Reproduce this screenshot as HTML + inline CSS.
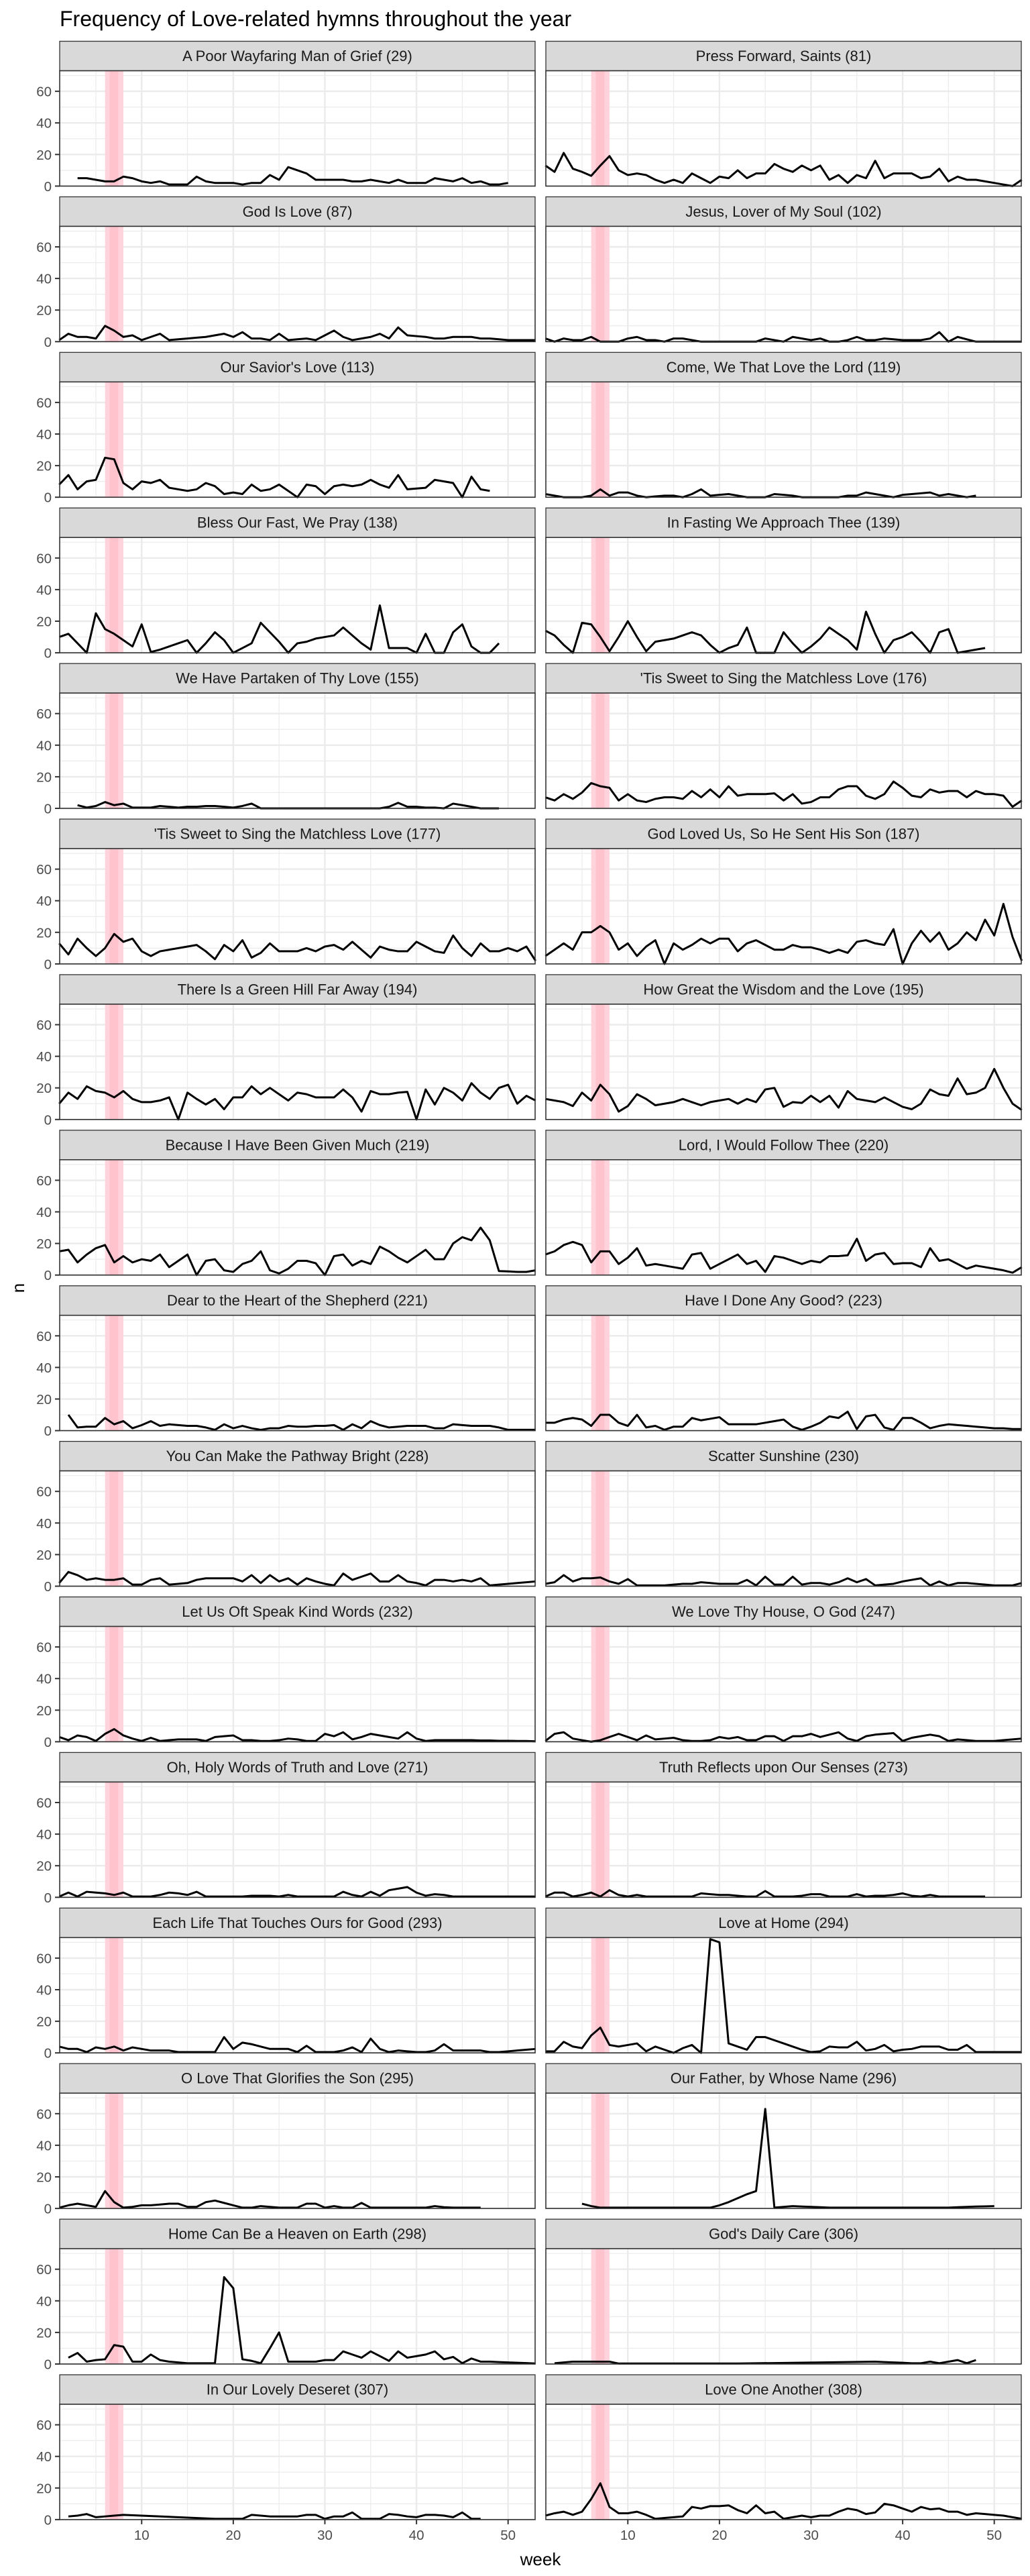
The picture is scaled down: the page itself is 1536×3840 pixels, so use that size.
<!DOCTYPE html>
<html><head><meta charset="utf-8"><title>Frequency of Love-related hymns</title>
<style>
html,body{margin:0;padding:0;background:#fff;}
svg{display:block;font-family:"Liberation Sans",Arial,sans-serif;}
</style></head>
<body>
<svg id="chart" xmlns="http://www.w3.org/2000/svg" width="1536" height="3840" viewBox="0 0 1536 3840">
<rect x="0" y="0" width="1536" height="3840" fill="#ffffff"/>
<text x="89" y="39" font-size="32" fill="#000">Frequency of Love-related hymns throughout the year</text>
<text x="0" y="0" font-size="26" fill="#000" text-anchor="middle" transform="translate(36,1920) rotate(-90)">n</text>
<text x="806" y="3824" font-size="26" fill="#000" text-anchor="middle">week</text>
<g id="panels"></g>
</svg>
<script>
const titles = ["A Poor Wayfaring Man of Grief (29)","Press Forward, Saints (81)","God Is Love (87)","Jesus, Lover of My Soul (102)","Our Savior's Love (113)","Come, We That Love the Lord (119)","Bless Our Fast, We Pray (138)","In Fasting We Approach Thee (139)","We Have Partaken of Thy Love (155)","'Tis Sweet to Sing the Matchless Love (176)","'Tis Sweet to Sing the Matchless Love (177)","God Loved Us, So He Sent His Son (187)","There Is a Green Hill Far Away (194)","How Great the Wisdom and the Love (195)","Because I Have Been Given Much (219)","Lord, I Would Follow Thee (220)","Dear to the Heart of the Shepherd (221)","Have I Done Any Good? (223)","You Can Make the Pathway Bright (228)","Scatter Sunshine (230)","Let Us Oft Speak Kind Words (232)","We Love Thy House, O God (247)","Oh, Holy Words of Truth and Love (271)","Truth Reflects upon Our Senses (273)","Each Life That Touches Ours for Good (293)","Love at Home (294)","O Love That Glorifies the Son (295)","Our Father, by Whose Name (296)","Home Can Be a Heaven on Earth (298)","God's Daily Care (306)","In Our Lovely Deseret (307)","Love One Another (308)"];
const xTicks = [10,20,30,40,50];
const yTicks = [0,20,40,60];
const highlightStart = 6, highlightEnd = 8, highlightInnerStart = 6.5, highlightInnerEnd = 7.45;
const s29 = [null,null,5,5,4,3,3,6,5,3,2,3,1,1,1,6,3,2,2,2,1,2,2,7,4,12,10,8,4,4,4,4,3,3,4,3,2,4,2,2,2,5,4,3,5,2,3,1,1,2,null,null,null];
const s81 = [13,9,21,11,9,6.5,13,19,10,7,8,7,4,2,4,2,8,5,2,6,5,10,5,8,8,14,11,9,13,10,13,4,7,2,7,5,16,5,8,8,8,5,6,11,3,6,4,4,3,2,1,0,4];
const s87 = [1,5,3,3,2,10,7,3,4,1,3,5,1,1.5,2,2.5,3,4,5,3,6,2,2,1,5,1,1.5,2,1,4,7,3,1,2,3,5,2,9,4,3.5,3,2,2,3,3,3,2,2,1.5,1,1,1,1];
const s102 = [2,0,2,1,1,3,0,0,0,2,3,1,1,0,2,2,1,0,0,0,0,0,0,0,2,1,0,3,2,1,2,0,0,1,3,1,1,2,1.5,1,1,1,2,6,0,3,1.5,0,0,0,0,0,0];
const s113 = [8,14,5,10,11,25,24,9,5,10,9,11,6,5,4,5,9,7,2,3,2,8,4,5,8,4,0,8,7,2,7,8,7,8,11,8,6,14,5,5.5,6,11,10,9,0,13,5,4,null,null,null,null,null];
const s119 = [2,1,0,0,0,1,5,1,3,3,1,0,0.5,1,1,0,2,5,1,1.5,2,1,0,0,0,2,1.5,1,0,0,0,0,0,1,1,3,2,1,0,1.5,2,2.5,3,1,2,1,0,1,null,null,null,null,null];
const s138 = [10,12,6,0,25,15,12,8,4,18,0.5,2,4,6,8,0,6,13,8,0,3,6,19,13,7,0,6,7,9,10,11,16,11,6,2,30,3,3,3,0,12,0,0,13,18,4,0,0,6,null,null,null,null];
const s139 = [14,11,5,0,19,18,10,1,10,20,10,1,7,8,9,11,13,11,5,0,3,5,16,0,0,0,13,6,0,4,9,16,12,8,2,26,12,0,8,10,13,7,0,13,15,0,1,2,3,null,null,null,null];
const s155 = [null,null,2,0.5,1.5,4,2,3,0.5,0.5,0.5,1.5,1,0.5,1,1,1.5,1.5,1,0.5,1.5,3,0,0,0,0,0,0,0,0,0,0,0,0,0,0,1,3.5,1,1,0.5,0.5,0,3,2,1,0,0,0,null,null,null,null];
const s176 = [7,5,9,6,10,16,14,13,5,9,5,4,6,7,7,6,11,7,12,7,14,8,9,9,9,9.5,5,9,3,4,7,7,12,14,14,8,6,9,17,13,8,7,12,10,11,11,7,11,9,9,8,1,5];
const s177 = [13,6,16,10,5,10,19,14,16,8,5,8,9,10,11,12,8,3,12,8,15,4,7,13,8,8,8,10,8,11,12,9,14,9,4,11,9,8,8,14,11,8,7,18,10,5,13,8,8,10,8,11,2];
const s187 = [5,9,13,9,20,20,24,20,9,13,5,11,15,0,13,9,12,16,13,16,16,8,13,15,12,9,9,12,10.5,10.5,9,7,9,7,14,15,13,12,22,0,13,21,14,20,9,13,20,15,28,18,38,17,2];
const s194 = [10,17,13,21,18,17,14,18,13,11,11,12,14,0,17,13,9.5,13,6.5,14,14,21,16,20,16,12,17,16,14,14,14,19,14,5,18,16,16,17,17.5,0,19,9.5,20,17,12,23,17,13,20,22,10,15,12];
const s195 = [13,12,11,8.5,17,12,22,16,5,8.5,16,13,9,10,11,13,11,9,11,12,13,10,13,11,19,20,8,11,10.5,15,11,15,7.5,18,13,12,11,14,11,8,6.5,10,19,16,15,26,16,17,20,32,20,10,6];
const s219 = [15,16,8,13,17,19,8,12,8,10,9,13,5,9,13,0,9,10,3,2,7,9,15,3,1,4,9,9,7.5,0,12,13,6,9,7,18,15,11,8,12,16,10,10,20,24,22,30,22,2.5,2.3,2,2,3];
const s220 = [13,15,19,21,19,8,15,15,7,11,17,6,7,6,5,4,13,14,4,7,10,13,7,9,2,12,11,9,7,9,8,12,12,12.5,23,9,13,14,7,7.5,7.5,5,17,9,10,7,4,6,5,4,3,1.5,5];
const s221 = [null,10,2,2.5,2.5,8,4,6,1.5,3.5,6,3,4,3.5,3,3,2,0.5,4,1.5,3,1.5,0.5,1.5,1.5,3,2.5,2.5,3,3,3.5,0.5,4,1.5,6,3.5,2,2.5,3,3,3,1.5,1.5,4,3.5,3,3,3,2,0.5,0.5,0.5,0.5];
const s223 = [5,5,7,8,7,3,10,10,5,3,10,2,3,0.5,2.5,2.5,8,6.5,7.5,8.5,4,4,4,4,5,6,7,2.5,0.5,2.5,5,9,8,12,1,9,10,2,0.5,8,8,5,1.5,3,4,3.5,3,2.5,2,1.5,1.5,1,1];
const s228 = [2,9,7,4,5,4,4,5,1,1,4,5,1,1.5,2,4,5,5,5,5,3,7,2,7,3,5,1,5,3,1.5,0.5,8,4,6,8,3,3,7,3,2,0.5,4,4,3,4,3,5,0.5,1,1.5,2,2.5,3];
const s230 = [1.5,2.5,7,3,5,5,5.5,3,1.5,4.5,0.5,0.5,0.5,0.5,1,1.5,1.5,2.5,2,1.5,1.5,1.5,4,0.5,6,1,1,6,1,2,2,1,2.5,5,2.5,4.5,0.5,1,1.5,3,4,5,0.5,3,0.5,2,2,1.5,1,0.5,0.5,0.5,2];
const s232 = [3,1,4,3,0.5,5,8,4,2,0.5,2.5,0.5,1,1.5,1.5,1.5,0.5,3,3.5,4,1,1,0.5,0.5,1,2,1.5,0.5,0.5,5,3.5,6,1.5,3,5,4,3,2,6,2,0.5,1,1,1,1,1,0.8,0.8,0.6,0.6,0.5,0.5,0.3];
const s247 = [0.5,5,6,2,1,0,1,3,5,3,1,4,1.5,2,2.5,1,0.5,0.5,1,3,2,3,1,1,3.5,3.5,0.5,3.5,3.5,5,3,4.5,6,2,0.5,3.5,4.5,5,5.5,0.5,2.5,3.5,4.5,3.5,0.5,1.5,1,0.5,0.5,0.5,1,1.5,2];
const s271 = [0.5,3,0.5,3.5,3,2.5,1.5,3,0.5,0.5,0.5,1.5,3,2.5,1.5,3.5,0.5,0.5,0.5,0.5,0.5,1,1,1,0.5,1.5,0.5,0.5,0.5,0.5,0.5,3.5,1.5,0.5,3.5,1,4.5,5.5,6.5,3,1,2,1.5,0.5,0.5,0.5,0.5,0.5,0.5,0.5,0.5,0.5,0.5];
const s273 = [0.5,3,3,0.5,1.5,3,0.5,4.5,1.5,0.5,1.5,0.5,0.5,0.5,0.5,0.5,0.5,2.5,2,1.5,1.5,1,0.5,0.5,4,0.5,0.5,0.5,1,2,2,0.5,0.5,0.5,2,0.5,1,1,1.5,2.5,1,0.5,1.5,0.5,0.5,0.5,0.5,0.5,0.5,null,null,null,null];
const s293 = [4,2.5,2.5,0.5,3.5,2.5,4,1.5,3.5,2.5,1.5,1.5,1.5,0.5,0.5,0.5,0.5,0.5,10,2.5,6.5,5.5,4,2.5,2.5,2.5,0.5,4.5,0.5,0.5,0.5,1.5,3.5,0.5,9,2.5,0.5,1.5,1,0.5,0.5,1.5,5.5,1.5,1.5,1.5,1.5,0.5,0.5,1,1.5,2,2.5];
const s294 = [1,1,7,4,3,11,16,5,4,5,6,1,4,2,0,3,5,0,72,70,6,4,2,10,10,8,6,4,2,0.5,1,4,3.5,3.5,7,1.5,2.5,5,1,2,2.5,4,4,4,2,2,5,0.5,0.5,0.5,0.5,0.5,0.5];
const s295 = [0.5,2,3,2,1,11,4,0.5,1,2,2,2.5,3,3,1,1,4,5,3.5,2,0.5,0.5,1.5,1,0.5,0.5,0.5,3,3,0.5,1.5,0.5,0.5,3.5,0.5,0.5,0.5,0.5,0.5,0.5,0.5,1.5,0.8,0.5,0.5,0.5,0.5,null,null,null,null,null,null];
const s296 = [null,null,null,null,3,1.5,0.5,0.5,0.5,0.5,0.5,0.5,0.5,0.5,0.5,0.5,0.5,0.5,0.5,2,4,6.5,9,11,63,0.5,1,1.5,1.2,1,0.8,0.5,0.5,0.5,0.5,0.5,0.5,0.5,0.5,0.5,0.5,0.5,0.5,0.5,0.5,0.8,1,1.2,1.3,1.5,null,null,null];
const s298 = [null,4,7,1.5,2.5,3,12,11,1.5,1.5,6,2.5,1.5,1,0.5,0.5,0.5,0.5,55,48,3,2,0.5,10,20,1.5,1.5,1.5,1.5,2.5,2.5,8,6,4,8,5,2,8,4,5,6,8,3,4.5,0.5,3.5,1.5,1.5,1.2,1,0.8,0.6,0.3];
const s306 = [null,0.5,1,1.5,1.5,1.5,1.5,1.5,0.3,null,null,null,null,null,null,null,null,null,null,null,null,0.3,null,null,null,null,null,null,null,null,null,null,null,null,null,null,1.5,1.2,1,0.8,0.5,0.5,1.5,0.5,1.5,2.5,0.5,2.5,null,null,null,null,null];
const s307 = [null,2,2.5,3.5,1.5,2,2.5,3,null,null,null,null,null,null,null,null,null,0.5,0.5,0.5,0.5,3,2.5,2,2,2,2,3,3,0.5,2,2,4.5,0.5,0.5,0.5,3.5,3,2,1.5,3,3,2.5,1.5,4.5,0.5,0.5,null,null,null,null,null,null];
const s308 = [2.5,4,5,3,5,13,23,8,4,4,5,3,0.5,1,1.5,2,8,7,8.5,8.5,9,6,4,9,4,5,0.5,1.5,2.5,1.5,2.5,2.5,5,7,6,3.5,4.5,10,9,7,5,8,6.5,7,5,5,3,4,3.5,3,2.5,1.5,0.5];
const seriesList = [s29,s81,s87,s102,s113,s119,s138,s139,s155,s176,s177,s187,s194,s195,s219,s220,s221,s223,s228,s230,s232,s247,s271,s273,s293,s294,s295,s296,s298,s306,s307,s308];

const NS = "http://www.w3.org/2000/svg";
const XMIN = 1.05, XMAX = 52.95, YMAX = 73;
const COLS = [[89,798],[814,1523]];
const ROW_PITCH = 231.9, STRIP_TOP0 = 61.5, STRIP_H = 44, BOTTOM0 = 277.4;
const root = document.getElementById('panels');
function mk(tag, attrs, parent){
  const e = document.createElementNS(NS, tag);
  for (const k in attrs) e.setAttribute(k, attrs[k]);
  parent.appendChild(e);
  return e;
}
const nRows = Math.ceil(seriesList.length/2);
seriesList.forEach(function(series, idx){
  const row = Math.floor(idx/2), col = idx % 2;
  const x0 = COLS[col][0], x1 = COLS[col][1];
  const stripTop = STRIP_TOP0 + row*ROW_PITCH;
  const top = stripTop + STRIP_H;
  const bottom = BOTTOM0 + row*ROW_PITCH;
  const xs = function(w){ return x0 + (w - XMIN)/(XMAX - XMIN)*(x1 - x0); };
  const ys = function(v){ return bottom - v/YMAX*(bottom - top); };
  const g = mk('g', {}, root);
  
  
  // strip
  const strip = mk('rect', {x:x0, y:stripTop, width:x1-x0, height:STRIP_H, fill:'#D9D9D9', stroke:'#333333', 'stroke-width':1.3}, g);
  
  
  const st = mk('text', {x:(x0+x1)/2, y:stripTop+STRIP_H/2+7.5, 'font-size':22, fill:'#1A1A1A', 'text-anchor':'middle'}, g);
  st.textContent = titles[idx];
  
  
  // panel bg
  mk('rect', {x:x0, y:top, width:x1-x0, height:bottom-top, fill:'#ffffff'}, g);
  // minor grid
  [10,30,50,70].forEach(function(v){
    const l = mk('line', {x1:x0, x2:x1, y1:ys(v), y2:ys(v), stroke:'#EBEBEB', 'stroke-width':1.2}, g);
    
    
  });
  [5,15,25,35,45].forEach(function(w){
    const l = mk('line', {x1:xs(w), x2:xs(w), y1:top, y2:bottom, stroke:'#EBEBEB', 'stroke-width':1.2}, g);
    
    
  });
  yTicks.forEach(function(v){
    const l = mk('line', {x1:x0, x2:x1, y1:ys(v), y2:ys(v), stroke:'#EBEBEB', 'stroke-width':2.4}, g);
    
    
  });
  xTicks.forEach(function(w){
    const l = mk('line', {x1:xs(w), x2:xs(w), y1:top, y2:bottom, stroke:'#EBEBEB', 'stroke-width':2.4}, g);
    
    
  });
  // highlight band
  const hb = mk('rect', {x:xs(highlightStart), y:top, width:xs(highlightEnd)-xs(highlightStart), height:bottom-top, fill:'#FFD3DC'}, g);
  
  
  const hb2 = mk('rect', {x:xs(highlightInnerStart), y:top, width:xs(highlightInnerEnd)-xs(highlightInnerStart), height:bottom-top, fill:'#FFC3CE'}, g);
  
  
  // line
  let d = '';
  series.forEach(function(v, i){
    if (v === null) return;
    const w = i + 1;
    d += (d === '' ? 'M' : 'L') + xs(w).toFixed(2) + ',' + ys(v).toFixed(2);
  });
  const p = mk('path', {d:d, fill:'none', stroke:'#000000', 'stroke-width':3, 'stroke-linejoin':'round'}, g);
  
  
  // border
  const b = mk('rect', {x:x0, y:top, width:x1-x0, height:bottom-top, fill:'none', stroke:'#333333', 'stroke-width':1.6}, g);
  
  
  // y axis
  if (col === 0){
    yTicks.forEach(function(v){
      const tk = mk('line', {x1:x0-7, x2:x0, y1:ys(v), y2:ys(v), stroke:'#333333', 'stroke-width':2}, g);
      
      
      const t = mk('text', {x:x0-12, y:ys(v)+7.5, 'font-size':20.5, fill:'#4D4D4D', 'text-anchor':'end'}, g);
      t.textContent = String(v);
      
      
    });
  }
  // x axis
  if (row === nRows - 1){
    xTicks.forEach(function(w){
      const tk = mk('line', {x1:xs(w), x2:xs(w), y1:bottom, y2:bottom+7, stroke:'#333333', 'stroke-width':2}, g);
      
      
      const t = mk('text', {x:xs(w), y:bottom+30, 'font-size':20.5, fill:'#4D4D4D', 'text-anchor':'middle'}, g);
      t.textContent = String(w);
      
      
    });
  }
});
</script>
</body></html>
